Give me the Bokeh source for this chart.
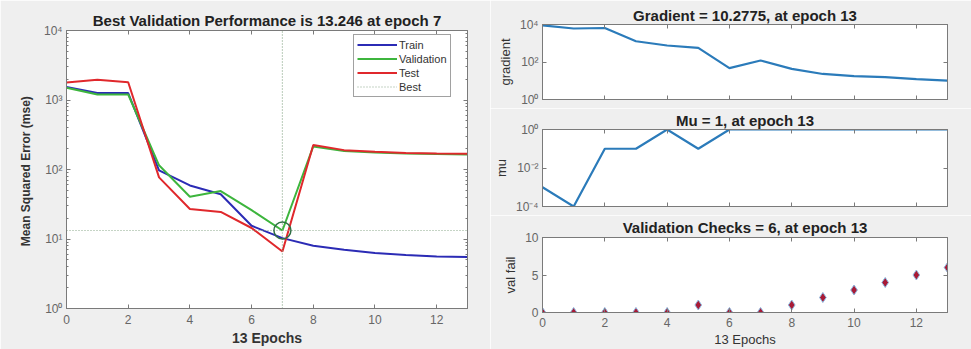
from bokeh.plotting import figure
from bokeh.layouts import row, column
from bokeh.models import (Range1d, FixedTicker, CustomJSTickFormatter, Legend, LegendItem,
                          LinearAxis, LogAxis)
from bokeh.embed import file_html
from bokeh.resources import INLINE

# ---------------- data ----------------
epochs = list(range(14))
train_mse = [1540, 1260, 1260, 97, 59, 44, 15.5, 10.3, 8.0, 7.0, 6.3, 5.9, 5.6, 5.5]
val_mse = [1500, 1200, 1200, 115, 40.6, 49, 26, 13.246, 215, 185, 176, 170, 167, 165]
test_mse = [1780, 1950, 1800, 77, 27, 24.5, 14.4, 6.6, 225, 190, 180, 173, 170, 169]
best_epoch = 7
best_perf = 13.246
gradient = [8900, 6100, 6500, 1280, 760, 570, 47, 120, 43, 23, 17.5, 15.5, 12.2, 10.2775]
mu = [1e-3, 1e-4, 1e-1, 1e-1, 1, 1e-1, 1, 1, 1, 1, 1, 1, 1, 1]
val_fail = [0, 0, 0, 0, 0, 1, 0, 0, 1, 2, 3, 4, 5, 6]
x_ticks = [0, 2, 4, 6, 8, 10, 12]
perf_ticks = [1, 10, 100, 1000, 10000]
grad_ticks = [1, 100, 10000]
mu_ticks = [1e-4, 1e-2, 1]
fail_ticks = [0, 5, 10]

FONT = "Liberation Sans"
BG = "#efefef"
AX = "#7a7a7a"
TXT = "#666666"

sup_fmt = CustomJSTickFormatter(code="""
const sup = {'0':'\u2070','1':'\u00b9','2':'\u00b2','3':'\u00b3','4':'\u2074','5':'\u2075','6':'\u2076','7':'\u2077','8':'\u2078','9':'\u2079','-':'\u207b'};
const e = Math.round(Math.log10(tick));
return '10' + String(e).split('').map(c => sup[c]).join('');
""")


def tick_style(ax):
    ax.axis_line_color = AX
    ax.major_tick_line_color = AX
    ax.minor_tick_line_color = AX
    ax.major_tick_in = 4
    ax.major_tick_out = 0
    ax.minor_tick_in = 2
    ax.minor_tick_out = 0
    ax.major_label_text_font = FONT
    ax.major_label_text_font_size = "12px"
    ax.major_label_text_color = TXT
    ax.axis_label_text_font = FONT
    ax.axis_label_text_font_style = "normal"
    ax.axis_label_text_color = "#333333"


def hide_labels(ax):
    ax.major_label_text_font_size = "1px"
    ax.major_label_text_alpha = 0
    ax.major_label_standoff = 0


def style_axes(f, yticker, ylog, xlabels=True, yfmt=None):
    bx = f.below[0]
    ly = f.left[0]
    for ax in (bx, ly):
        tick_style(ax)
    bx.ticker = FixedTicker(ticks=x_ticks)
    bx.major_label_standoff = 5
    ly.major_label_standoff = 4
    ly.ticker = yticker
    if yfmt is not None:
        ly.formatter = yfmt
    if not xlabels:
        hide_labels(bx)
    # mirrored ticks (box) on top and right
    top = LinearAxis(ticker=FixedTicker(ticks=x_ticks))
    tick_style(top)
    hide_labels(top)
    f.add_layout(top, "above")
    right = LogAxis(ticker=yticker) if ylog else LinearAxis(ticker=yticker)
    tick_style(right)
    hide_labels(right)
    f.add_layout(right, "right")
    f.xgrid.visible = False
    f.ygrid.visible = False
    f.outline_line_color = AX
    f.background_fill_color = "white"
    f.border_fill_color = BG
    f.title.text_font = FONT
    f.title.text_font_style = "bold"
    f.title.text_color = "#222222"
    f.title.align = "center"
    return bx, ly


# ---------------- left: performance ----------------
p = figure(width=490, height=349, x_range=Range1d(0, 13), y_range=Range1d(1, 1e4),
           y_axis_type="log", output_backend="svg", toolbar_location=None,
           min_border_left=66, min_border_right=23, min_border_top=30, min_border_bottom=41,
           title="Best Validation Performance is 13.246 at epoch 7")
perf_ticker = FixedTicker(ticks=perf_ticks,
                          minor_ticks=[k * 10 ** d for d in range(4) for k in range(2, 10)])
pbx, ply = style_axes(p, perf_ticker, True, yfmt=sup_fmt)
p.title.text_font_size = "15px"
p.title.standoff = 4
ply.axis_label = "Mean Squared Error  (mse)"
ply.axis_label_text_font_style = "bold"
ply.axis_label_text_font_size = "12px"
ply.axis_label_standoff = 8
pbx.axis_label = "13 Epochs"
pbx.axis_label_text_font_style = "bold"
pbx.axis_label_text_font_size = "14px"
pbx.axis_label_standoff = 3
pbx.major_label_standoff = 6

best_col = "#8aa88a"
r_train = p.line(epochs, train_mse, line_color="#2b2bb5", line_width=2)
r_val = p.line(epochs, val_mse, line_color="#3db53d", line_width=2)
r_test = p.line(epochs, test_mse, line_color="#e0282c", line_width=2)
r_best = p.line([best_epoch, best_epoch], [1, 1e4], line_color=best_col, line_width=1.2, line_dash="1 2")
p.line([0, 13], [best_perf, best_perf], line_color=best_col, line_width=1.2, line_dash="1 2")
p.scatter([best_epoch], [best_perf], marker="circle", size=17, fill_color=None,
          line_color="#2f6f45", line_width=1.5)

legend = Legend(items=[LegendItem(label="Train", renderers=[r_train]),
                       LegendItem(label="Validation", renderers=[r_val]),
                       LegendItem(label="Test", renderers=[r_test]),
                       LegendItem(label="Best", renderers=[r_best])],
                location=(287, 211), orientation="vertical")
legend.label_text_font = FONT
legend.label_text_font_size = "11px"
legend.label_text_color = "#333333"
legend.glyph_width = 40
legend.glyph_height = 13
legend.label_height = 13
legend.spacing = 1
legend.padding = 3
legend.margin = 0
legend.label_standoff = 2
legend.border_line_color = "#444444"
legend.background_fill_color = "white"
legend.background_fill_alpha = 1
p.add_layout(legend)

# ---------------- right panels ----------------
line_col = "#2b7bba"

g = figure(width=481, height=108, x_range=Range1d(0, 13), y_range=Range1d(1, 1e4),
           y_axis_type="log", output_backend="svg", toolbar_location=None,
           min_border_left=51, min_border_right=24, min_border_top=24, min_border_bottom=9,
           title="Gradient = 10.2775, at epoch 13")
gbx, gly = style_axes(g, FixedTicker(ticks=grad_ticks), True, xlabels=False, yfmt=sup_fmt)
g.title.text_font_size = "15px"
g.title.standoff = 2
gly.axis_label = "gradient"
gly.axis_label_text_font_size = "13px"
gly.axis_label_standoff = 4
g.line(epochs, gradient, line_color=line_col, line_width=2.2)

m = figure(width=481, height=107, x_range=Range1d(0, 13), y_range=Range1d(1e-4, 1),
           y_axis_type="log", output_backend="svg", toolbar_location=None,
           min_border_left=51, min_border_right=24, min_border_top=21, min_border_bottom=9,
           title="Mu = 1, at epoch 13")
mbx, mly = style_axes(m, FixedTicker(ticks=mu_ticks), True, xlabels=False, yfmt=sup_fmt)
m.title.text_font_size = "15px"
m.title.standoff = 1
mly.axis_label = "mu"
mly.axis_label_text_font_size = "13px"
mly.axis_label_standoff = 4
m.line(epochs, mu, line_color=line_col, line_width=2.2)

v = figure(width=481, height=134, x_range=Range1d(0, 13), y_range=Range1d(0, 10),
           output_backend="svg", toolbar_location=None,
           min_border_left=51, min_border_right=24, min_border_top=21, min_border_bottom=37,
           title="Validation Checks = 6, at epoch 13")
vbx, vly = style_axes(v, FixedTicker(ticks=fail_ticks), False)
v.title.text_font_size = "15px"
v.title.standoff = 3
vly.axis_label = "val fail"
vly.axis_label_text_font_size = "13px"
vly.axis_label_standoff = 4
vbx.axis_label = "13 Epochs"
vbx.axis_label_text_font_size = "13px"
vbx.axis_label_standoff = 2
vbx.major_label_standoff = 5
v.scatter(epochs, val_fail, marker="diamond", size=10, fill_color="#a81a36",
          line_color="#8db8e0", line_width=1)

layout = row(p, column(g, m, v))
open("out.html", "w").write(file_html(layout, INLINE))
